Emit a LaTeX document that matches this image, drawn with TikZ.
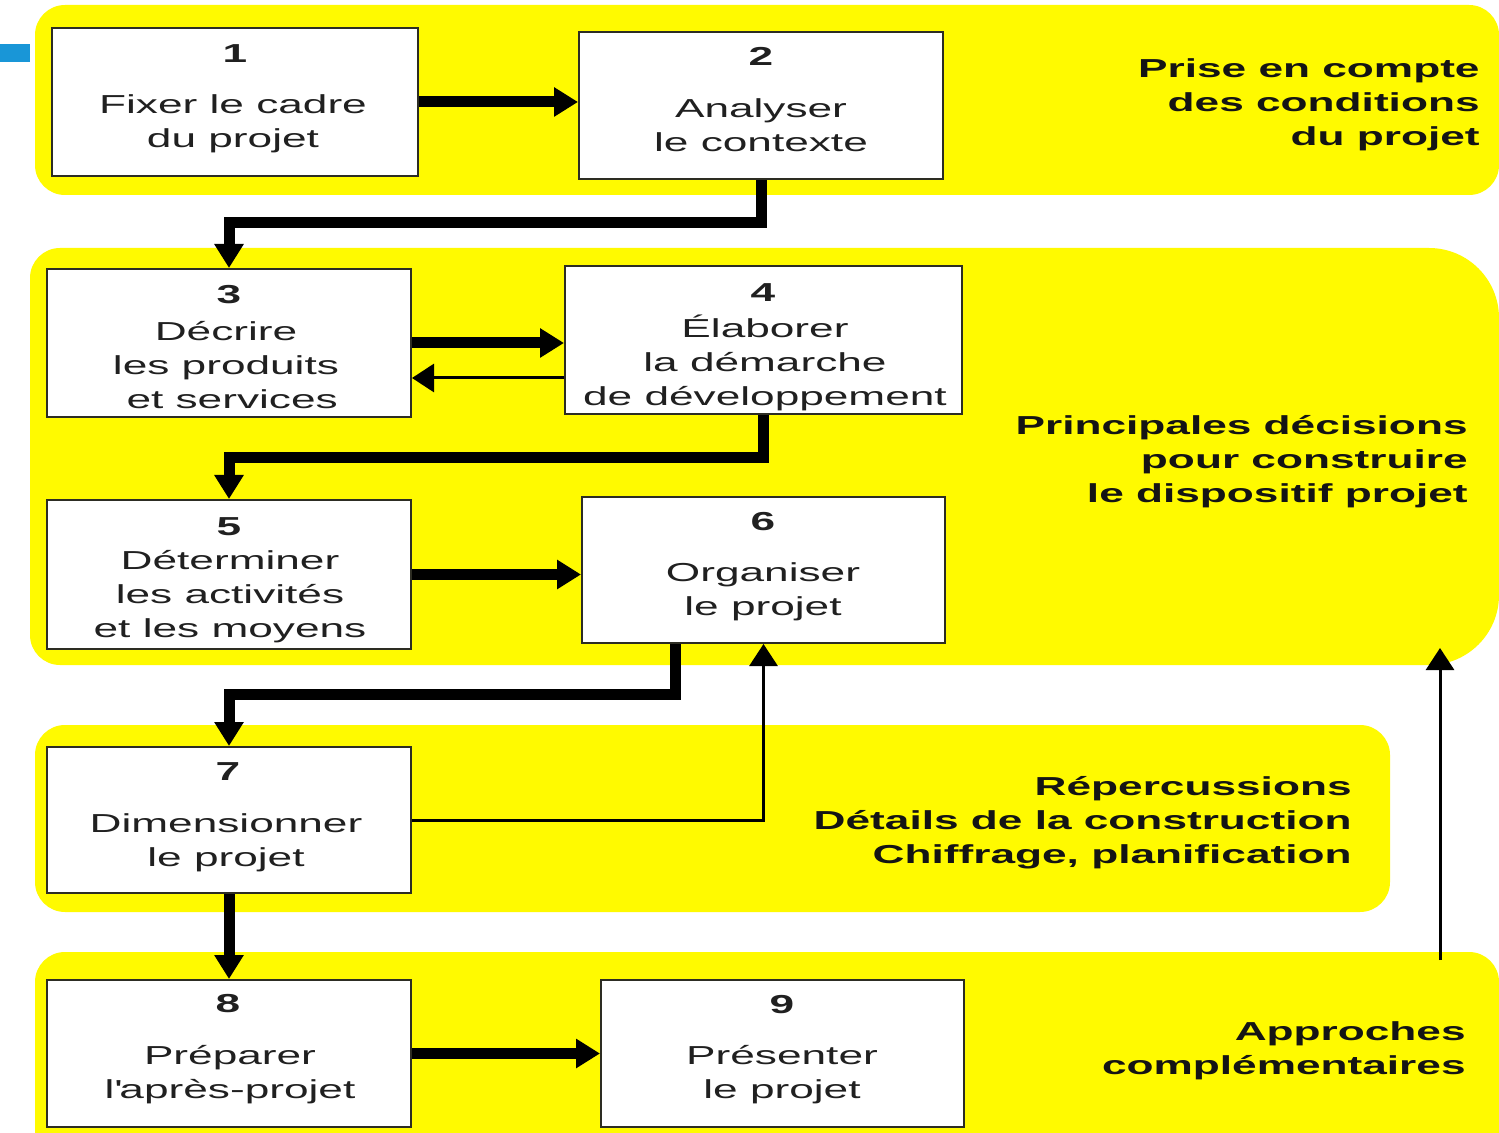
\documentclass[tikz,border=0pt]{standalone}
\usepackage{fontspec}
\setmainfont{Liberation Sans}[FakeStretch=1.7]
\usetikzlibrary{arrows.meta,fit,calc}
\definecolor{bandyellow}{RGB}{255,250,0}
\definecolor{ink}{RGB}{32,32,32}
\definecolor{framecol}{RGB}{45,45,35}
\definecolor{slideblue}{RGB}{25,150,215}

\begin{document}
\begin{tikzpicture}[x=0.5pt,y=-0.5pt,
  band/.style={fill=bandyellow},
  stepbox/.style={draw=framecol,line width=1pt,fill=white,inner sep=0pt},
  num/.style={font=\fontsize{13}{17}\selectfont\bfseries,text=ink,inner sep=0pt},
  txt/.style={font=\fontsize{13}{17}\selectfont,text=ink,align=center,inner sep=0pt},
  note/.style={font=\fontsize{13}{17}\selectfont\bfseries,text=black!92,align=right,anchor=east,inner sep=0pt},
  flow/.style={line width=5.5pt,-{Triangle[width=14pt,length=12pt]}},
  back/.style={line width=1.5pt,-{Triangle[width=14pt,length=11pt]}},
]
\clip (0,0) rectangle (1499,1133);
\fill[white] (0,0) rectangle (1499,1133);

% phase bands
\fill[band,rounded corners=15pt] (35,5) rectangle (1499,195);
\fill[band] (30,456) [rounded corners=15pt] -- (30,248) [rounded corners=35pt] -- (1499,248) -- (1499,665) [rounded corners=15pt] -- (30,665) -- cycle;
\fill[band,rounded corners=15pt] (35,725) rectangle (1390,912);
\fill[band,rounded corners=15pt] (35,952) rectangle (1499,1170);

% slide marker
\fill[slideblue] (0,44) rectangle (30,62);

% steps
\node[stepbox,fit={(52,28)(418,176)}] (b1) {};
\node[stepbox,fit={(579,32)(943,179)}] (b2) {};
\node[stepbox,fit={(47,269)(411,417)}] (b3) {};
\node[stepbox,fit={(565,266)(962,414)}] (b4) {};
\node[stepbox,fit={(47,500)(411,649)}] (b5) {};
\node[stepbox,fit={(582,497)(945,643)}] (b6) {};
\node[stepbox,fit={(47,747)(411,893)}] (b7) {};
\node[stepbox,fit={(47,980)(411,1127)}] (b8) {};
\node[stepbox,fit={(601,980)(964,1127)}] (b9) {};

\node[num] (n1) at (235,54) {1};
\node[txt] (t1) at (233,124) {Fixer le cadre\\du projet};
\node[num] (n2) at (761,56) {2};
\node[txt] (t2) at (761,125.5) {Analyser\\le contexte};
\node[num] (n3) at (229,295) {3};
\node[txt] (t3) at (226,365) {Décrire\\les produits\\\ et services};
\node[num] (n4) at (763,293) {4};
\node[txt] (t4) at (765,363) {Élaborer\\la démarche\\de développement};
\node[num] (n5) at (229,527) {5};
\node[txt] (t5) at (230,597) {Déterminer\\les activités\\et les moyens};
\node[num] (n6) at (763,522) {6};
\node[txt] (t6) at (763,591.5) {Organiser\\le projet};
\node[num] (n7) at (228,772) {7};
\node[txt] (t7) at (226,843) {Dimensionner\\le projet};
\node[num] (n8) at (228,1004) {8};
\node[txt] (t8) at (230,1075) {Préparer\\l\textquotesingle après-projet};
\node[num] (n9) at (782,1005) {9};
\node[txt] (t9) at (782,1075) {Présenter\\le projet};

% phase captions
\node[note] (l1) at (1480,105) {Prise en compte\\des conditions\\du projet};
\node[note] (l2) at (1468,462) {Principales décisions\\pour construire\\le dispositif projet};
\node[note] (l3) at (1352,823) {Répercussions\\Détails de la construction\\Chiffrage, planification};
\node[note] (l4) at (1466,1051) {Approches\\complémentaires};

% main flow
\draw[flow] (b1.east) -- (b1.east -| b2.west);
\draw[flow] (b2.south) -- ++(0,43) -| (b3.north);
\draw[flow] (b3.east) -- (b3.east -| b4.west);
\coordinate (r4) at ($(b4.west)+(0,38)$);
\draw[back] (r4) -- (r4 -| b3.east);
\draw[flow] (b4.south) -- ++(0,43) -| (b5.north);
\draw[flow] (b5.east) -- (b5.east -| b6.west);
\coordinate (s6) at ($(b6.south)+(-88,0)$);
\draw[flow] (s6) -- ++(0,50) -| (b7.north);
\draw[back] (b7.east) -| (b6.south);
\draw[flow] (b7.south) -- (b8.north);
\draw[flow] (b8.east) -- (b8.east -| b9.west);

% feedback towards the decisions band
\coordinate (fb0) at (1440,960);
\coordinate (fb1) at (1440,648);
\draw[back] (fb0) -- (fb1);
\end{tikzpicture}
\end{document}
